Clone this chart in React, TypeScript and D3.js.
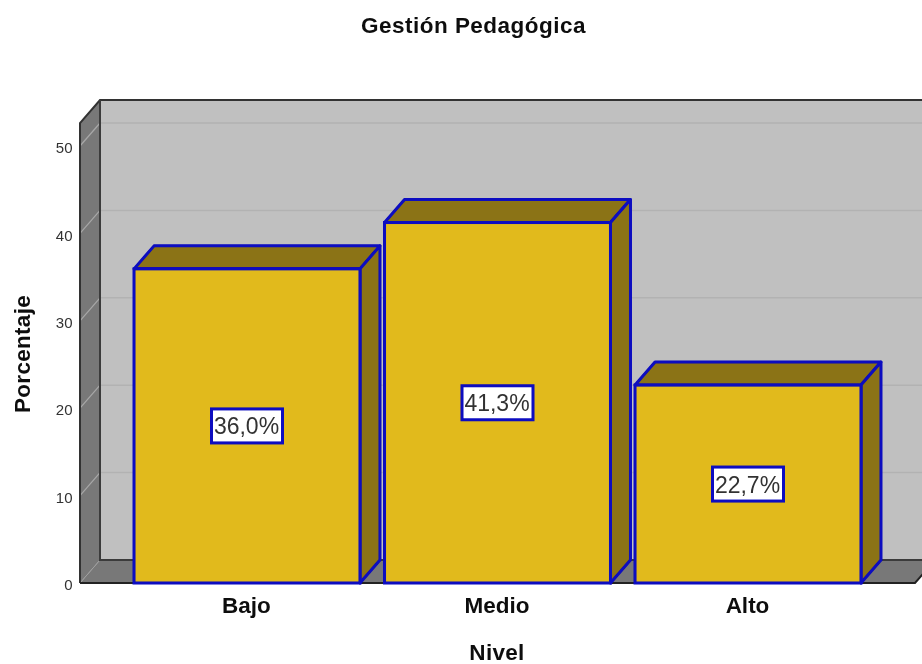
import React from "react";
import * as d3 from "d3";

const title = "Gestión Pedagógica";
const xTitle = "Nivel";
const yTitle = "Porcentaje";
const categories = ["Bajo", "Medio", "Alto"];
const values = [36.0, 41.3, 22.7];
const valueLabels = ["36,0%", "41,3%", "22,7%"];
const yTicks = [0, 10, 20, 30, 40, 50];

const FONT = "'Liberation Sans', Arial, sans-serif";
const W = 922, H = 664;
const left = 80, right = 915, top = 123, bottom = 583;
const dx = 20, dy = -23;
const BLUE = "#0808c0";

const y = d3.scaleLinear().domain([0, 50]).range([bottom, 146]);
const x = d3.scaleBand<string>().domain(categories).range([121.75, 873.25]).paddingInner(0.098).paddingOuter(0.049);

const pts = (a: [number, number][]) => a.map((p) => p.join(",")).join(" ");

export default function App() {
  return (
    <svg width={W} height={H} viewBox={`0 0 ${W} ${H}`} style={{ position: "absolute", left: 0, top: 0, display: "block", background: "#fff" }} fontFamily={FONT}>
      <defs>
        <filter id="soft" x="0" y="0" width="100%" height="100%">
          <feGaussianBlur stdDeviation="0.4" />
        </filter>
      </defs>
      <g filter="url(#soft)">
        <rect x={0} y={0} width={W} height={H} fill="#fff" />
        <text x={473.5} y={33} textAnchor="middle" fontSize={22.5} fontWeight={700} letterSpacing={0.47} fill="#111">{title}</text>

        {/* back wall */}
        <rect x={left + dx} y={top + dy} width={right - left} height={bottom - top} fill="#c0c0c0" />
        {/* left wall */}
        <polygon points={pts([[left, top], [left + dx, top + dy], [left + dx, bottom + dy], [left, bottom]])} fill="#787878" />
        {/* floor */}
        <polygon points={pts([[left, bottom], [left + dx, bottom + dy], [right + dx, bottom + dy], [right, bottom]])} fill="#787878" />

        {yTicks.slice(1).map((t) => (
          <g key={t}>
            <line x1={left} y1={y(t)} x2={left + dx} y2={y(t) + dy} stroke="#a8a8a8" strokeWidth={1.2} />
            <line x1={left + dx} y1={y(t) + dy} x2={right + dx} y2={y(t) + dy} stroke="#b2b2b2" strokeWidth={1.5} />
          </g>
        ))}
        <line x1={left} y1={bottom} x2={left + dx} y2={bottom + dy} stroke="#a0a0a0" strokeWidth={1} />
        <path d={`M${left},${bottom} V${top} L${left + dx},${top + dy} H${right + dx}`} fill="none" stroke="#333" strokeWidth={2} />
        <path d={`M${left + dx},${top + dy} V${bottom + dy} H${right + dx}`} fill="none" stroke="#3a3a3a" strokeWidth={2} />
        <path d={`M${left},${bottom} H${right} L${right + dx},${bottom + dy}`} fill="none" stroke="#222" strokeWidth={2} />

        {yTicks.map((t) => (
          <text key={t} x={72.5} y={y(t) + 7.2} textAnchor="end" fontSize={15} fill="#333">{t}</text>
        ))}

        {categories.map((c, i) => {
          const x0 = x(c)!, x1 = x0 + x.bandwidth(), yT = y(values[i]) + 0.5, yB = y(0);
          const cx = (x0 + x1) / 2, cy = (yT + yB) / 2;
          return (
            <g key={c}>
              <polygon points={pts([[x0, yT], [x0 + dx, yT + dy], [x1 + dx, yT + dy], [x1, yT]])} fill="#8b7314" stroke={BLUE} strokeWidth={3} strokeLinejoin="round" />
              <polygon points={pts([[x1, yT], [x1 + dx, yT + dy], [x1 + dx, yB + dy], [x1, yB]])} fill="#8b7314" stroke={BLUE} strokeWidth={3} strokeLinejoin="round" />
              <rect x={x0} y={yT} width={x.bandwidth()} height={yB - yT} fill="#e1ba1e" stroke={BLUE} strokeWidth={3} />
              <rect x={cx - 35.5} y={cy - 17} width={71} height={34} fill="#fff" stroke={BLUE} strokeWidth={3} />
              <text x={cx - 0.5} y={cy + 8.5} textAnchor="middle" fontSize={23} fill="#333">{valueLabels[i]}</text>
              <text x={cx - 0.5} y={613} textAnchor="middle" fontSize={22.5} fontWeight={700} fill="#111">{c}</text>
            </g>
          );
        })}

        <text x={497} y={660} textAnchor="middle" fontSize={22.5} fontWeight={700} letterSpacing={0.3} fill="#111">{xTitle}</text>
        <text transform="translate(29.5,354) rotate(-90)" textAnchor="middle" fontSize={22.5} fontWeight={700} letterSpacing={0.3} fill="#111">{yTitle}</text>
      </g>
    </svg>
  );
}
